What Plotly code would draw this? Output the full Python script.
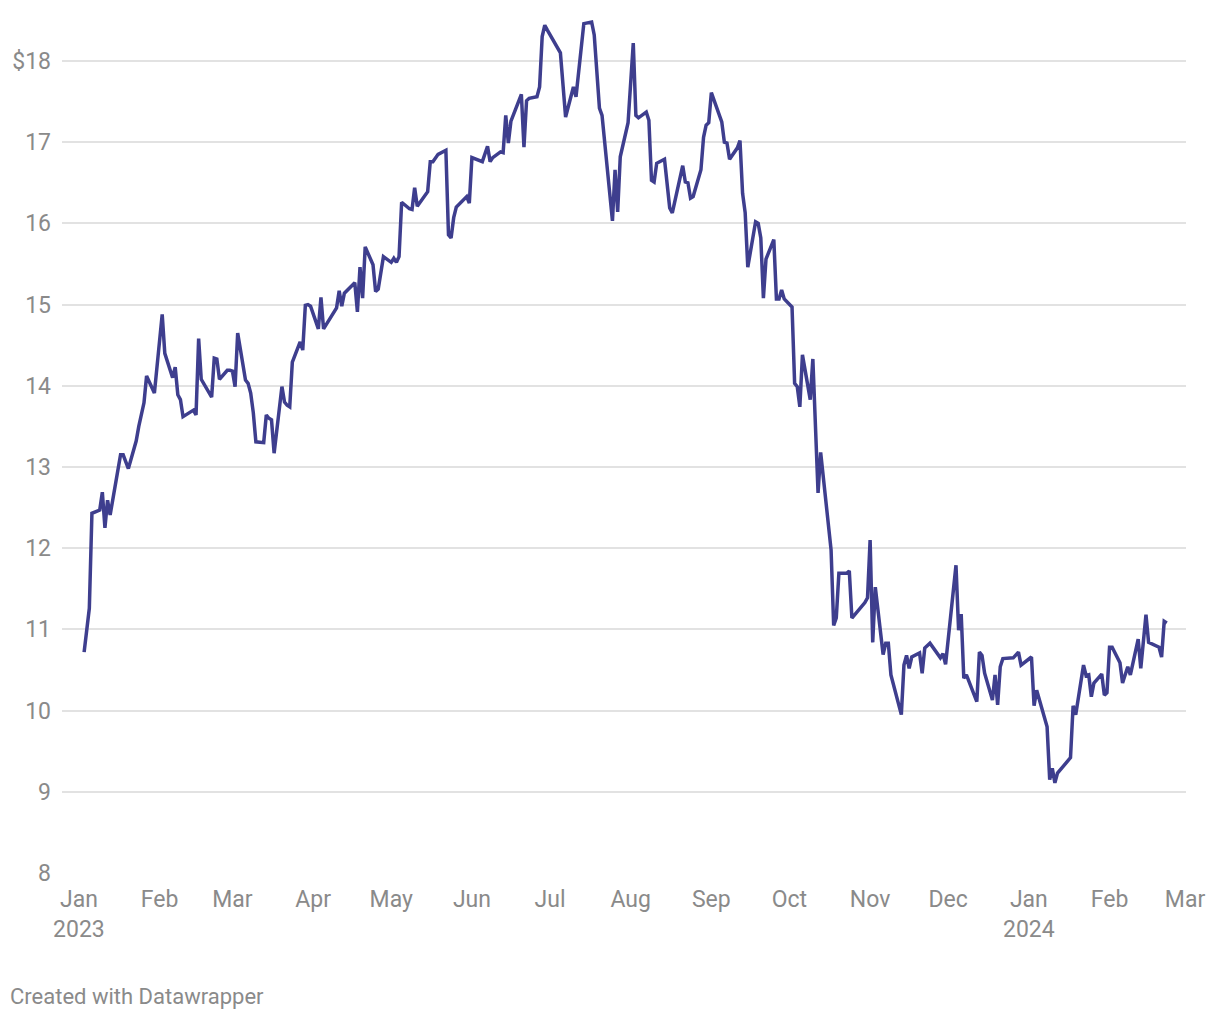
import plotly.graph_objects as go

dates = [
    "2023-01-03", "2023-01-05", "2023-01-06", "2023-01-09", "2023-01-10", "2023-01-11", "2023-01-12", "2023-01-13",
    "2023-01-17", "2023-01-18", "2023-01-20", "2023-01-23", "2023-01-24", "2023-01-26", "2023-01-27", "2023-01-30",
    "2023-02-02", "2023-02-03", "2023-02-06", "2023-02-07", "2023-02-08", "2023-02-09", "2023-02-10", "2023-02-13",
    "2023-02-14", "2023-02-15", "2023-02-16", "2023-02-17", "2023-02-21", "2023-02-22", "2023-02-23", "2023-02-24",
    "2023-02-27", "2023-02-28", "2023-03-01", "2023-03-02", "2023-03-03", "2023-03-06", "2023-03-07", "2023-03-08",
    "2023-03-09", "2023-03-10", "2023-03-13", "2023-03-14", "2023-03-15", "2023-03-16", "2023-03-17", "2023-03-20",
    "2023-03-21", "2023-03-22", "2023-03-23", "2023-03-24", "2023-03-27", "2023-03-28", "2023-03-29", "2023-03-30",
    "2023-03-31", "2023-04-03", "2023-04-04", "2023-04-05", "2023-04-10", "2023-04-11", "2023-04-12", "2023-04-13",
    "2023-04-14", "2023-04-17", "2023-04-18", "2023-04-19", "2023-04-20", "2023-04-21", "2023-04-24", "2023-04-25",
    "2023-04-26", "2023-04-28", "2023-05-01", "2023-05-02", "2023-05-03", "2023-05-04", "2023-05-05", "2023-05-08",
    "2023-05-09", "2023-05-10", "2023-05-11", "2023-05-15", "2023-05-16", "2023-05-17", "2023-05-19", "2023-05-22",
    "2023-05-23", "2023-05-24", "2023-05-25", "2023-05-26", "2023-05-30", "2023-05-31", "2023-06-01", "2023-06-05",
    "2023-06-07", "2023-06-08", "2023-06-09", "2023-06-12", "2023-06-13", "2023-06-14", "2023-06-15", "2023-06-16",
    "2023-06-20", "2023-06-21", "2023-06-22", "2023-06-23", "2023-06-26", "2023-06-27", "2023-06-28", "2023-06-29",
    "2023-06-30", "2023-07-03", "2023-07-05", "2023-07-07", "2023-07-10", "2023-07-11", "2023-07-14", "2023-07-17",
    "2023-07-18", "2023-07-20", "2023-07-21", "2023-07-25", "2023-07-26", "2023-07-27", "2023-07-28", "2023-07-31",
    "2023-08-02", "2023-08-03", "2023-08-04", "2023-08-07", "2023-08-08", "2023-08-09", "2023-08-10", "2023-08-11",
    "2023-08-14", "2023-08-16", "2023-08-17", "2023-08-21", "2023-08-22", "2023-08-23", "2023-08-24", "2023-08-25",
    "2023-08-28", "2023-08-29", "2023-08-30", "2023-08-31", "2023-09-01", "2023-09-05", "2023-09-06", "2023-09-07",
    "2023-09-08", "2023-09-11", "2023-09-12", "2023-09-13", "2023-09-14", "2023-09-15", "2023-09-18", "2023-09-19",
    "2023-09-20", "2023-09-21", "2023-09-22", "2023-09-25", "2023-09-26", "2023-09-27", "2023-09-28", "2023-09-29",
    "2023-10-02", "2023-10-03", "2023-10-04", "2023-10-05", "2023-10-06", "2023-10-09", "2023-10-10", "2023-10-12",
    "2023-10-13", "2023-10-17", "2023-10-18", "2023-10-19", "2023-10-20", "2023-10-23", "2023-10-24", "2023-10-25",
    "2023-10-30", "2023-10-31", "2023-11-01", "2023-11-02", "2023-11-03", "2023-11-06", "2023-11-07", "2023-11-08",
    "2023-11-09", "2023-11-13", "2023-11-14", "2023-11-15", "2023-11-16", "2023-11-17", "2023-11-20", "2023-11-21",
    "2023-11-22", "2023-11-24", "2023-11-28", "2023-11-29", "2023-11-30", "2023-12-04", "2023-12-05", "2023-12-06",
    "2023-12-07", "2023-12-08", "2023-12-12", "2023-12-13", "2023-12-14", "2023-12-15", "2023-12-18", "2023-12-19",
    "2023-12-20", "2023-12-21", "2023-12-22", "2023-12-26", "2023-12-28", "2023-12-29",
    "2024-01-02", "2024-01-03", "2024-01-04", "2024-01-08", "2024-01-09", "2024-01-10", "2024-01-11", "2024-01-12",
    "2024-01-17", "2024-01-18", "2024-01-19", "2024-01-22", "2024-01-23", "2024-01-24", "2024-01-25", "2024-01-26",
    "2024-01-29", "2024-01-30", "2024-01-31", "2024-02-01", "2024-02-02", "2024-02-05", "2024-02-06", "2024-02-08",
    "2024-02-09", "2024-02-12", "2024-02-13", "2024-02-15", "2024-02-16", "2024-02-20", "2024-02-21", "2024-02-22",
    "2024-02-23",
]

prices = [
    10.72, 11.26, 12.43, 12.47, 12.69, 12.25, 12.59, 12.41,
    13.15, 13.15, 12.98, 13.32, 13.50, 13.79, 14.12, 13.91,
    14.88, 14.40, 14.10, 14.23, 13.89, 13.83, 13.62, 13.68,
    13.70, 13.64, 14.58, 14.08, 13.86, 14.34, 14.33, 14.08,
    14.19, 14.19, 14.18, 13.99, 14.65, 14.07, 14.03, 13.91,
    13.67, 13.31, 13.30, 13.64, 13.60, 13.58, 13.17, 13.99,
    13.80, 13.76, 13.74, 14.29, 14.54, 14.44, 14.99, 15.00,
    14.98, 14.70, 15.09, 14.70, 14.96, 15.17, 14.98, 15.14,
    15.17, 15.27, 14.91, 15.46, 15.08, 15.71, 15.49, 15.16,
    15.19, 15.59, 15.52, 15.57, 15.52, 15.59, 16.26, 16.18,
    16.17, 16.44, 16.21, 16.39, 16.76, 16.76, 16.85, 16.90,
    15.86, 15.82, 16.07, 16.20, 16.33, 16.25, 16.81, 16.76,
    16.95, 16.76, 16.81, 16.88, 16.87, 17.33, 16.99, 17.26,
    17.59, 16.94, 17.51, 17.54, 17.56, 17.68, 18.30, 18.44,
    18.38, 18.20, 18.10, 17.31, 17.68, 17.56, 18.46, 18.48,
    18.32, 17.42, 17.33, 16.03, 16.66, 16.14, 16.82, 17.24,
    18.22, 17.33, 17.30, 17.37, 17.27, 16.53, 16.51, 16.74,
    16.79, 16.19, 16.13, 16.71, 16.51, 16.50, 16.31, 16.33,
    16.66, 17.06, 17.21, 17.24, 17.61, 17.25, 17.00, 16.99,
    16.79, 16.93, 17.02, 16.37, 16.13, 15.46, 16.02, 16.00,
    15.82, 15.08, 15.56, 15.80, 15.07, 15.07, 15.18, 15.07,
    14.97, 14.03, 13.99, 13.74, 14.38, 13.83, 14.33, 12.68,
    13.18, 11.98, 11.05, 11.14, 11.69, 11.69, 11.72, 11.14,
    11.33, 11.39, 12.10, 10.84, 11.52, 10.69, 10.83, 10.83,
    10.44, 9.95, 10.56, 10.68, 10.52, 10.66, 10.71, 10.46,
    10.77, 10.83, 10.65, 10.70, 10.57, 11.79, 10.99, 11.19,
    10.40, 10.44, 10.11, 10.72, 10.68, 10.46, 10.13, 10.44,
    10.07, 10.54, 10.64, 10.65, 10.72, 10.56,
    10.66, 10.06, 10.25, 9.80, 9.15, 9.29, 9.11, 9.23,
    9.42, 10.06, 9.95, 10.56, 10.43, 10.44, 10.17, 10.34,
    10.45, 10.19, 10.22, 10.78, 10.78, 10.59, 10.34, 10.54,
    10.44, 10.88, 10.52, 11.18, 10.84, 10.78, 10.66, 11.10,
    11.08,
]

x_tick_vals = ["2023-01-01", "2023-02-01", "2023-03-01", "2023-04-01", "2023-05-01", "2023-06-01", "2023-07-01",
               "2023-08-01", "2023-09-01", "2023-10-01", "2023-11-01", "2023-12-01", "2024-01-01", "2024-02-01",
               "2024-03-01"]
x_tick_text = ["Jan<br>2023", "Feb", "Mar", "Apr", "May", "Jun", "Jul", "Aug", "Sep", "Oct", "Nov", "Dec",
               "Jan<br>2024", "Feb", "Mar"]
y_tick_vals = [8, 9, 10, 11, 12, 13, 14, 15, 16, 17, 18]
y_tick_text = ["8", "9", "10", "11", "12", "13", "14", "15", "16", "17", "$18"]

FONT = "Roboto, 'Noto Sans', sans-serif"
GREY = "#8a8a8a"

fig = go.Figure()
fig.add_trace(go.Scatter(
    x=dates, y=prices, mode="lines",
    line=dict(color="#3e3e8e", width=3.5),
    hoverinfo="x+y",
))

fig.update_layout(
    width=1212, height=1012,
    paper_bgcolor="white", plot_bgcolor="white",
    margin=dict(l=52, r=34, t=4, b=147),
    showlegend=False,
    font=dict(family=FONT, size=22, color=GREY),
    xaxis=dict(
        type="date",
        range=["2022-12-25 12:00", "2024-03-01 09:00"],
        tickmode="array", tickvals=x_tick_vals, ticktext=x_tick_text,
        showgrid=False, zeroline=False, showline=False, ticks="",
        tickfont=dict(family=FONT, size=23, color=GREY),
        ticklabelstandoff=10,
    ),
    yaxis=dict(
        range=[8, 18.603],
        tickmode="array", tickvals=y_tick_vals, ticktext=y_tick_text,
        showgrid=True, gridcolor="#e2e2e2", gridwidth=1.5,
        zeroline=False, showline=False, ticks="",
        tickfont=dict(family=FONT, size=23, color=GREY),
        ticklabelstandoff=10,
    ),
    annotations=[dict(
        text="Created with Datawrapper",
        xref="paper", yref="paper",
        x=-54 / 1126, y=(865 - 989) / 861,
        xanchor="left", yanchor="middle",
        showarrow=False,
        font=dict(family=FONT, size=22, color=GREY),
    )],
)

fig.write_html("out.html")
